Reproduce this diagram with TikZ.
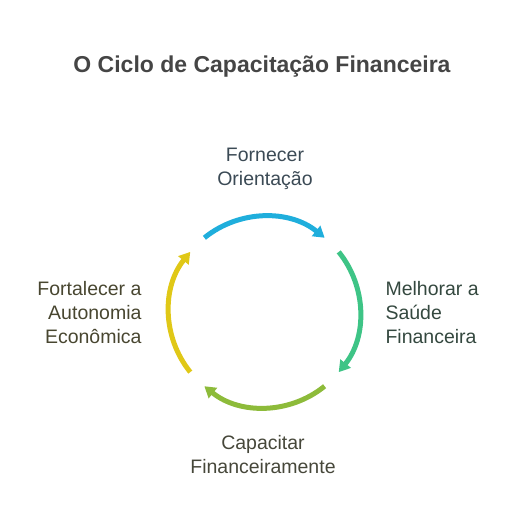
\documentclass[tikz,border=0pt]{standalone}
\usepackage{fontspec}
\setmainfont{Liberation Sans}
\usetikzlibrary{arrows.meta}
\definecolor{cblue}{HTML}{1FAEDC}
\definecolor{cgreen}{HTML}{3EC486}
\definecolor{colive}{HTML}{8DBB3A}
\definecolor{cyellow}{HTML}{E0C817}
\definecolor{tblue}{HTML}{3B4A55}
\definecolor{tgreen}{HTML}{34483F}
\definecolor{tolive}{HTML}{46473A}
\definecolor{tyellow}{HTML}{484630}
\tikzset{
  lbl/.style={font=\fontsize{19.5}{24}\selectfont, align=#1},
  cyc/.style={line width=5pt, draw=#1, -{Triangle[length=11pt,width=13pt]}},
}
\begin{document}
\begin{tikzpicture}[x=1pt,y=-1pt]
\useasboundingbox (0,0) rectangle (516,528);
% nodes
\node[font=\bfseries\fontsize{23}{27}\selectfont, text=black!73] (title) at (262,67) {O Ciclo de Capacitação Financeira};
\node[lbl=center, text=tblue] (top) at (265,169) {Fornecer\\Orientação};
\node[lbl=left, text=tgreen, anchor=west] (right) at (382,313) {Melhorar a\\Saúde\\Financeira};
\node[lbl=center, text=tolive] (bottom) at (263,455) {Capacitar\\Financeiramente};
\node[lbl=right, text=tyellow, anchor=east] (left) at (145,313) {Fortalecer a\\Autonomia\\Econômica};
% circle centre
\coordinate (c) at (264.5,312);
% arrows
\draw[cyc=cblue]   ([shift={(-129:95.5)}]c) arc[start angle=-129, end angle=-51, radius=95.5];
\draw[cyc=cgreen]  ([shift={(-39:95.5)}]c) arc[start angle=-39, end angle=39, radius=95.5];
\draw[cyc=colive]  ([shift={(51:95.5)}]c) arc[start angle=51, end angle=129, radius=95.5];
\draw[cyc=cyellow] ([shift={(141:95.5)}]c) arc[start angle=141, end angle=219, radius=95.5];
\end{tikzpicture}
\end{document}
